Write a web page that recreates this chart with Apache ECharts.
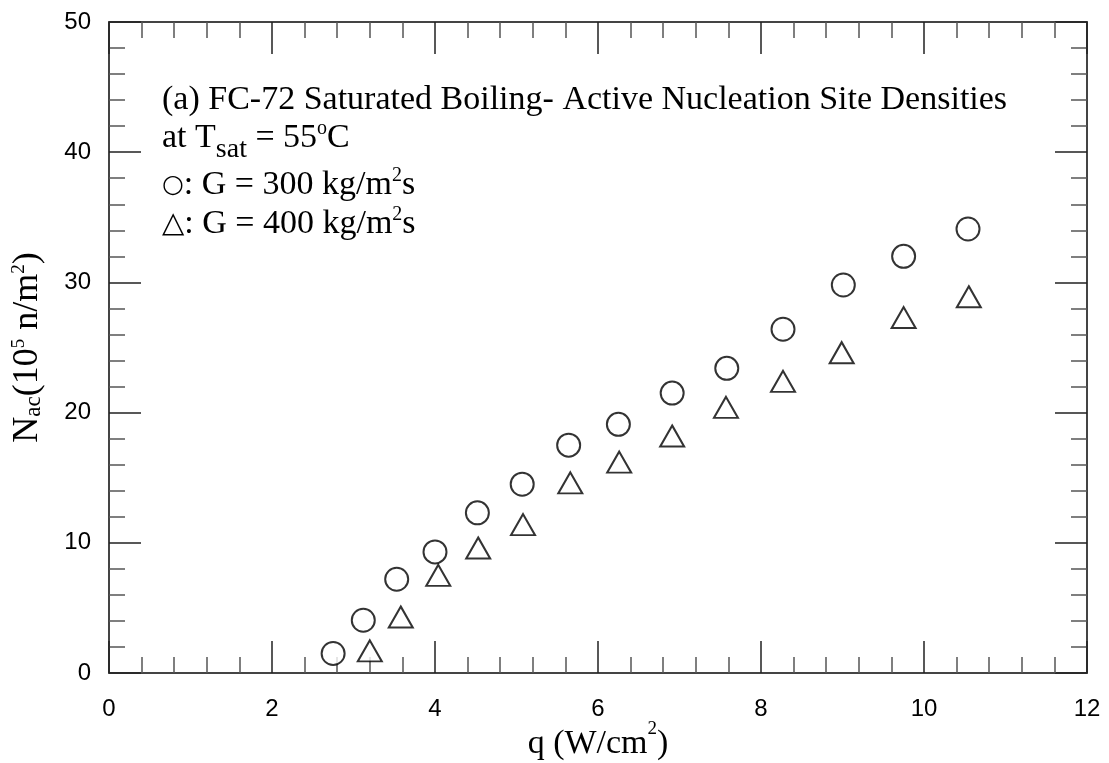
<!DOCTYPE html>
<html>
<head>
<meta charset="utf-8">
<script src="https://cdn.jsdelivr.net/npm/echarts@6/dist/echarts.min.js"></script>
<style>
html,body{margin:0;padding:0;background:#fff;}
#chart{width:1109px;height:763px;}
</style>
</head>
<body>
<div id="chart"></div>
<script>
// ---- data ----
const xTicks = [0, 2, 4, 6, 8, 10, 12];
const yTicks = [0, 10, 20, 30, 40, 50];
const qG300 = [2.75, 3.12, 3.53, 4.00, 4.52, 5.07, 5.64, 6.25, 6.91, 7.58, 8.27, 9.01, 9.75, 10.54];
const nG300 = [1.5, 4.05, 7.2, 9.3, 12.3, 14.5, 17.5, 19.1, 21.5, 23.4, 26.4, 29.8, 32.0, 34.1];
const qG400 = [3.20, 3.58, 4.04, 4.53, 5.08, 5.66, 6.26, 6.91, 7.57, 8.27, 8.99, 9.75, 10.55];
const nG400 = [1.7, 4.3, 7.5, 9.6, 11.4, 14.6, 16.2, 18.2, 20.4, 22.4, 24.6, 27.3, 28.9];

const serif = '"Liberation Serif", "Times New Roman", serif';
const sans = '"Liberation Sans", Arial, sans-serif';

function pairs(xs, ys) { return xs.map((x, i) => [x, ys[i]]); }

const chart = echarts.init(document.getElementById('chart'), null, {renderer: 'canvas'});

const axisLine = {show: true, onZero: false, lineStyle: {color: '#444', width: 2}};
const majorTick = {show: true, inside: true, length: 32, lineStyle: {color: '#222', width: 1.5}};
const minorTick = {show: true, splitNumber: 5, length: 16, lineStyle: {color: '#555', width: 1.5}};

// rich text styles for annotation lines (main 34px)
const rt = {
  m: {fontFamily: serif, fontSize: 34, lineHeight: 48, verticalAlign: 'middle', color: '#000'},
  sup: {fontFamily: serif, fontSize: 20, verticalAlign: 'middle', padding: [0, 0, 19, 0], color: '#000'},
  sub: {fontFamily: serif, fontSize: 28, verticalAlign: 'middle', padding: [24, 0, 0, 0], color: '#000'},
  sym: {fontFamily: '"DejaVu Sans", sans-serif', fontSize: 25, lineHeight: 48, verticalAlign: 'middle', color: '#000'},
  tri: {fontFamily: '"DejaVu Sans", sans-serif', fontSize: 29, lineHeight: 48, verticalAlign: 'middle', color: '#000'}
};
// rich for x axis name
const rtX = {
  m: {fontFamily: serif, fontSize: 34, lineHeight: 48, verticalAlign: 'middle', color: '#000'},
  sup: {fontFamily: serif, fontSize: 19, lineHeight: 18, verticalAlign: 'top', color: '#000'}
};
// rich for y axis name (main 36px)
const rtY = {
  m: {fontFamily: serif, fontSize: 36, lineHeight: 50, verticalAlign: 'middle', color: '#000'},
  sup: {fontFamily: serif, fontSize: 19, verticalAlign: 'middle', padding: [0, 0, 17, 0], color: '#000'},
  sub: {fontFamily: serif, fontSize: 23, verticalAlign: 'middle', padding: [11, 0, 0, 0], color: '#000'}
};

function textEl(x, y, text) {
  return {type: 'text', x: x, y: y,
    style: {text: text, rich: rt, fill: '#000', align: 'left', verticalAlign: 'middle'}};
}

const option = {
  backgroundColor: '#fff',
  animation: false,
  grid: {left: 109, right: 22, top: 22, bottom: 90, containLabel: false, outerBoundsMode: 'none'},
  xAxis: [{
    type: 'value', min: xTicks[0], max: xTicks[xTicks.length - 1], interval: 2,
    position: 'bottom',
    axisLine: axisLine, axisTick: majorTick, minorTick: minorTick,
    splitLine: {show: false},
    axisLabel: {fontFamily: sans, fontSize: 24, color: '#000', margin: 24,
      formatter: v => xTicks.includes(v) ? String(v) : ''},
    name: '{m|q (W/cm}{sup|2}{m|)}', nameLocation: 'middle', nameGap: 47,
    nameMoveOverlap: false,
    nameTextStyle: {rich: rtX}
  }, {
    type: 'value', min: xTicks[0], max: xTicks[xTicks.length - 1], interval: 2,
    position: 'top',
    axisLine: axisLine, axisTick: majorTick, minorTick: minorTick,
    splitLine: {show: false}, axisLabel: {show: false}
  }],
  yAxis: [{
    type: 'value', min: yTicks[0], max: yTicks[yTicks.length - 1], interval: 10,
    position: 'left',
    axisLine: axisLine, axisTick: majorTick, minorTick: minorTick,
    splitLine: {show: false},
    axisLabel: {fontFamily: sans, fontSize: 24, color: '#000', margin: 18,
      formatter: v => yTicks.includes(v) ? String(v) : ''},
    name: '{m|N}{sub|ac}{m|(10}{sup|5}{m| n/m}{sup|2}{m|)}', nameLocation: 'middle', nameGap: 56,
    nameMoveOverlap: false,
    nameRotate: 90,
    nameTextStyle: {rich: rtY}
  }, {
    type: 'value', min: yTicks[0], max: yTicks[yTicks.length - 1], interval: 10,
    position: 'right',
    axisLine: axisLine, axisTick: majorTick, minorTick: minorTick,
    splitLine: {show: false}, axisLabel: {show: false}
  }],
  graphic: [
    textEl(162, 100, '{m|(a) FC-72 Saturated Boiling- Active Nucleation Site Densities}'),
    textEl(162, 138, '{m|at T}{sub|sat}{m| = 55}{sup|o}{m|C}'),
    textEl(162, 185, '{sym|○}{m|: G = 300 kg/m}{sup|2}{m|s}'),
    textEl(162, 224, '{tri|△}{m|: G = 400 kg/m}{sup|2}{m|s}')
  ],
  series: [{
    type: 'scatter', name: 'G300', xAxisIndex: 0, yAxisIndex: 0,
    data: pairs(qG300, nG300),
    symbol: 'circle', symbolSize: 23,
    itemStyle: {color: '#fff', borderColor: '#000', borderWidth: 2}
  }, {
    type: 'scatter', name: 'G400', xAxisIndex: 0, yAxisIndex: 0,
    data: pairs(qG400, nG400),
    symbol: 'triangle', symbolSize: [24, 21],
    itemStyle: {color: '#fff', borderColor: '#000', borderWidth: 2}
  }]
};
chart.setOption(option);
</script>
</body>
</html>
